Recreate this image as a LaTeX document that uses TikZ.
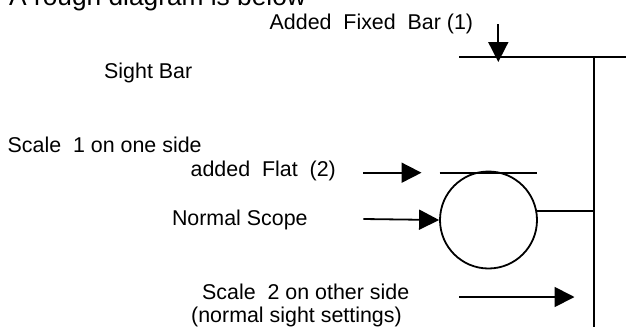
\documentclass[tikz,border=0pt]{standalone}
\usepackage{fontspec}
\setmainfont{Liberation Sans}
\usetikzlibrary{arrows.meta}
\begin{document}
\begin{tikzpicture}[x=1pt,y=-1pt,
  lbl/.style={anchor=base west,inner sep=0pt,font=\fontsize{21.4}{25}\selectfont},
  ttl/.style={anchor=base west,inner sep=0pt,font=\fontsize{26.3}{30}\selectfont},
  barline/.style={line width=1.8pt},
  pointer/.style={line width=1.8pt,-{Triangle[length=20pt,width=20pt]}}]
\useasboundingbox (0,0) rectangle (626,327);
% texts
\node[ttl] (title) at (9,5) {A rough diagram is below};
\node[lbl] (fixedlbl) at (269.5,29.5) {Added\ \ Fixed\ \ Bar (1)};
\node[lbl] (sightlbl) at (104,78.3) {Sight Bar};
\node[lbl] (scale1lbl) at (7.5,152.7) {Scale\ \ 1 on one side};
\node[lbl] (flatlbl) at (190.5,176.5) {added\ \ Flat\ \ (2)};
\node[lbl] (scopelbl) at (171.8,225.3) {Normal Scope};
\node[lbl] (scale2lbl) at (202,299.5) {Scale\ \ 2 on other side};
\node[lbl] (normlbl) at (191,322.7) {(normal sight settings)};
% scope
\node[circle,draw,line width=1.8pt,minimum size=97pt,inner sep=0pt] (scope) at (488.5,220) {};
% bars
\coordinate (fbL) at (459,57);
\coordinate (fbR) at (626,57);
\coordinate (vtop) at (594,57);
\coordinate (vbot) at (594,327);
\coordinate (vmid) at (594,211);
\coordinate (flatL) at (439.7,172.7);
\coordinate (flatR) at (537.3,172.7);
\draw[barline] (fbL) -- (fbR);
\draw[barline] (vtop) -- (vbot);
\draw[barline] (flatL) -- (flatR);
\draw[barline] (scope.east |- vmid) ++(-1,0) -- (vmid);
% arrows
\coordinate (fa1) at (498.3,24);
\coordinate (fa2) at (498.3,62);
\draw[pointer] (fa1) -- (fa2);
\coordinate (flA) at (363,172.7);
\coordinate (flB) at (421.5,172.7);
\draw[pointer] (flA) -- (flB);
\coordinate (nsA) at (363.3,219);
\draw[pointer] (nsA) -- (scope.west);
\coordinate (s2A) at (459.3,297);
\coordinate (s2B) at (574.5,297);
\draw[pointer] (s2A) -- (s2B);
\end{tikzpicture}
\end{document}
